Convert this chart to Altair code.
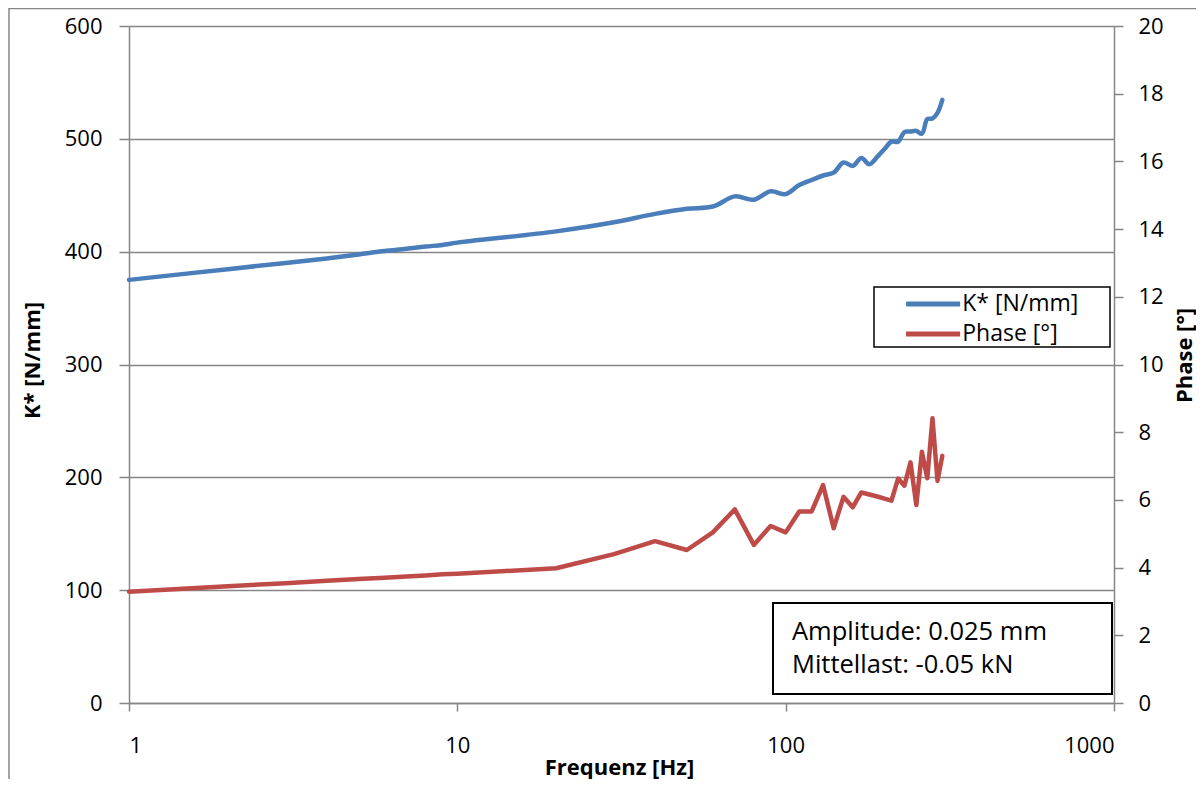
import altair as alt
import pandas as pd

# ---- data ----
freq = [1, 2, 3, 4, 5, 6, 7, 8, 9, 10,
        20, 30, 40, 50, 60, 70, 80, 90, 100, 110,
        120, 130, 140, 150, 160, 170, 180, 190, 200, 210,
        220, 230, 240, 250, 260, 270, 280, 290, 300]
k_star = [375, 384.5, 390, 394, 397.5, 400.5, 402.5, 404.5, 406, 408,
          418, 426, 433.5, 438, 440, 449, 446, 453.5, 451, 459,
          463.5, 467.5, 470, 479, 476, 483, 477.5, 484, 491, 497.5,
          497.5, 506, 506.5, 507, 504.5, 517.5, 518, 523, 534.5]
phase = [3.29, 3.45, 3.54, 3.61, 3.66, 3.70, 3.74, 3.77, 3.80, 3.82,
         3.98, 4.40, 4.78, 4.52, 5.04, 5.72, 4.67, 5.23, 5.04, 5.66,
         5.66, 6.44, 5.16, 6.09, 5.78, 6.22, 6.16, 6.10, 6.04, 5.98,
         6.63, 6.42, 7.11, 5.85, 7.42, 6.64, 8.41, 6.56, 7.30]
series_names = ["K* [N/mm]", "Phase [°]"]
series_colors = ["#4A7EBB", "#BE4B48"]
x_ticks = [1, 10, 100, 1000]
k_ticks = [0, 100, 200, 300, 400, 500, 600]
p_ticks = [0, 2, 4, 6, 8, 10, 12, 14, 16, 18, 20]
note_lines = ["Amplitude: 0.025 mm", "Mittellast: -0.05 kN"]

FONT = "Open Sans"
GRID = "#868686"

k_df = pd.DataFrame({"Frequenz": freq, "value": k_star, "series": series_names[0]})
p_df = pd.DataFrame({"Frequenz": freq, "value": phase, "series": series_names[1]})
dummy = pd.DataFrame({"a": [0]})

x_enc = alt.X(
    "Frequenz:Q",
    scale=alt.Scale(type="log", domain=[1, 1000], nice=False),
    axis=alt.Axis(
        values=x_ticks, format="d", title="Frequenz [Hz]", grid=False,
        domainColor=GRID, domainWidth=1.5, tickColor=GRID, tickWidth=1.5, tickSize=8,
        labelPadding=24, labelFont=FONT, labelFontSize=22, labelColor="black",
        titleFont=FONT, titleFontSize=22, titleFontWeight="bold", titleColor="black",
        titleX=490, titleY=71, titleBaseline="alphabetic", titleAlign="center",
    ),
)

color_enc = alt.Color(
    "series:N",
    scale=alt.Scale(domain=series_names, range=series_colors),
    legend=alt.Legend(
        orient="none", legendX=792.6, legendY=266.5, title=None,
        symbolType="M-5,0L5,0", symbolSize=117, symbolStrokeWidth=5,
        labelFont=FONT, labelFontSize=23, labelColor="black", labelOffset=17.6,
        rowPadding=6, padding=0,
    ),
)

k_line = alt.Chart(k_df).mark_line(strokeWidth=4.5, interpolate="catmull-rom", strokeCap="round").encode(
    x=x_enc,
    y=alt.Y(
        "value:Q",
        scale=alt.Scale(domain=[0, 600], nice=False),
        axis=alt.Axis(
            orient="left", values=k_ticks, title="K* [N/mm]", grid=True,
            gridColor=GRID, gridWidth=1.5, domainColor=GRID, domainWidth=1.5,
            tickColor=GRID, tickWidth=1.5, tickSize=10, labelPadding=17,
            labelFont=FONT, labelFontSize=22, labelColor="black",
            titleFont=FONT, titleFontSize=22, titleFontWeight="bold", titleColor="black",
            titleX=-97, titleY=334, titleAngle=270, titleBaseline="middle", titleAlign="center",
        ),
    ),
    color=color_enc,
)

p_line = alt.Chart(p_df).mark_line(strokeWidth=4.5, strokeJoin="round", strokeCap="round").encode(
    x=x_enc,
    y=alt.Y(
        "value:Q",
        scale=alt.Scale(domain=[0, 20], nice=False),
        axis=alt.Axis(
            orient="right", values=p_ticks, title="Phase [°]", grid=False,
            domainColor=GRID, domainWidth=1.5, tickColor=GRID, tickWidth=1.5, tickSize=9,
            labelPadding=15, labelFont=FONT, labelFontSize=22, labelColor="black",
            titleFont=FONT, titleFontSize=22, titleFontWeight="bold", titleColor="black",
            titleX=70, titleY=329, titleAngle=270, titleBaseline="middle", titleAlign="center",
        ),
    ),
    color=color_enc,
)

outer_border = alt.Chart(dummy).mark_rect(fill="transparent", stroke=GRID, strokeWidth=1.5).encode(
    x=alt.value(-120), x2=alt.value(1300), y=alt.value(-17.5), y2=alt.value(900)
)

legend_box = alt.Chart(dummy).mark_rect(fill="white", stroke="black", strokeWidth=1.5).encode(
    x=alt.value(745), x2=alt.value(981), y=alt.value(261), y2=alt.value(321)
)

note_box = alt.Chart(dummy).mark_rect(fill="white", stroke="black", strokeWidth=2).encode(
    x=alt.value(644), x2=alt.value(983), y=alt.value(577), y2=alt.value(668)
)

note1 = alt.Chart(dummy).mark_text(align="left", baseline="alphabetic", font=FONT, fontSize=25.5, color="black").encode(
    x=alt.value(663), y=alt.value(614), text=alt.value(note_lines[0])
)
note2 = alt.Chart(dummy).mark_text(align="left", baseline="alphabetic", font=FONT, fontSize=25.5, color="black").encode(
    x=alt.value(663), y=alt.value(647), text=alt.value(note_lines[1])
)

chart = alt.layer(
    outer_border, k_line, p_line, legend_box, note_box, note1, note2
).resolve_scale(
    y="independent"
).properties(
    width=985, height=677,
    padding={"left": 121, "top": 18, "right": 82, "bottom": 76},
    autosize=alt.AutoSizeParams(type="none"),
).configure_view(strokeWidth=0)

chart.save("out.html", embed_options={"renderer": "svg", "actions": False})
